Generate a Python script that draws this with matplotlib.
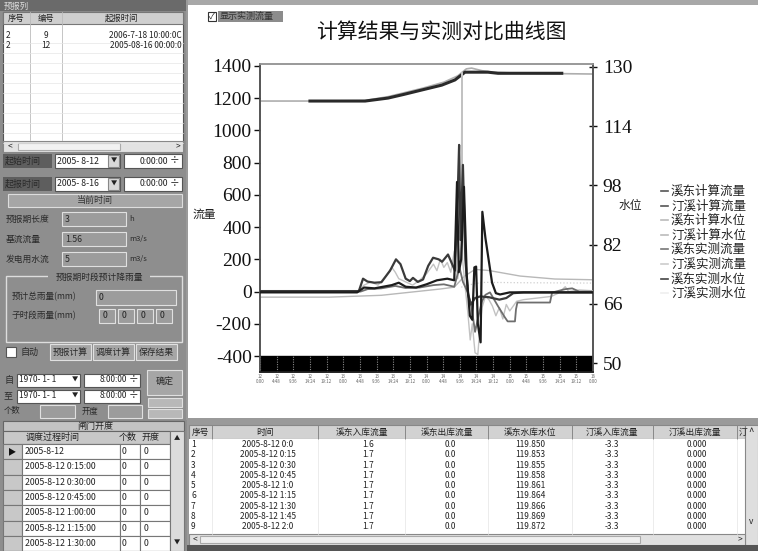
import matplotlib
matplotlib.use("Agg")
import matplotlib.pyplot as plt
from matplotlib.patches import Rectangle
from matplotlib.lines import Line2D

plt.rcParams['font.family'] = ['Noto Sans CJK SC', 'DejaVu Sans']

# ---------------- data (hours since 2005-8-12 0:00) ----------------
title = "计算结果与实测对比曲线图"
series_names = ["溪东计算流量", "汀溪计算流量", "溪东计算水位", "汀溪计算水位",
                "溪东实测流量", "汀溪实测流量", "溪东实测水位", "汀溪实测水位"]

q_xd_calc_t = [0, 28.5, 29.7, 31, 33, 35, 37.5, 39.2, 40.5, 42, 43.2, 44.1, 45.5, 47, 48.5, 49.9,
               51.5, 52.5, 54.2, 55.3, 56.2, 57.0, 57.4, 57.8, 58.5, 59.2, 60.0, 60.8, 62, 63.5, 66,
               69, 71, 73, 76, 96]
q_xd_calc = [3, 3, 80, 62, 55, 58, 130, 200, 170, 80, 65, 85, 60, 75, 160, 210,
             200, 185, 230, 175, 130, 600, 910, 320, 786, 200, -20, -80, -40, -30, -35,
             -50, -40, -10, -5, -5]

q_tx_calc_t = [0, 28, 30, 33, 38, 40, 42, 45, 48, 51, 54, 56, 56.8, 57.3, 58.0, 58.8, 59.6,
               60.5, 61.2, 61.8, 62.3, 62.8, 63.6, 64.1, 65, 66.9, 68, 69.2, 72, 96]
q_tx_calc = [-5, -5, 25, 20, 40, 55, 30, 25, 45, 70, 80, 70, 680, 120, 200, 650, 100,
             -150, -175, 150, 155, -200, -315, 495, 330, 55, -10, -18, -5, -5]

q_xd_obs_t = [0, 29, 31, 35, 39, 42, 46, 50, 53, 56, 57.5, 58.5, 60, 61, 62, 63, 64, 65, 66.3,
              68.6, 70.6, 71.4, 73.5, 73.8, 74.2, 83.6, 84.2, 88, 90, 92, 96]
q_xd_obs = [0, 0, 15, 20, 35, 22, 25, 40, 45, 30, 150, 60, -10, -100, -250, -150, -60, -20, -5,
            -90, -160, -185, -185, -110, -68, -68, -6, 15, 20, 0, 0]

q_tx_obs_t = [0, 3, 6, 10, 15, 20, 25, 28, 30, 32, 34, 36, 38, 39, 40, 42, 44, 46, 48, 50, 51,
              52, 53, 54, 55, 56, 57, 58.0, 58.2, 58.4, 59, 60, 60.6, 61.2, 62, 62.8, 63.3, 64,
              65, 66, 67, 68, 69, 70, 71, 72, 74, 76, 80, 84, 86, 88, 89, 92, 96]
q_tx_obs = [2, -4, 5, -3, 4, -2, 3, 0, 40, 60, 40, 90, 150, 120, 80, 60, 40, 70, 110, 170, 130,
            200, 150, 180, 120, 250, 80, 300, 1360, 200, 60, -150, -300, -200, -380, -390, -250, -100,
            -30, -50, -90, -150, -100, -170, -80, -120, -60, -50, -40, -30, -10, 30, 0, 10, 5]

wl_xd_calc_t = [0, 14, 30, 37, 47, 53, 57, 59.5, 61, 64, 67, 75, 87, 96]
wl_xd_calc = [120.8, 120.8, 120.9, 122.0, 124.3, 125.9, 127.6, 129.5, 129.7, 129.0, 128.6, 128.3, 128.2, 128.1]

wl_tx_calc_t = [0, 20, 35, 45, 52, 56, 59, 62, 66, 75, 85, 96]
wl_tx_calc = [67.8, 67.8, 68.3, 69.3, 70.0, 70.5, 73.5, 75.3, 75.0, 73.5, 72.7, 72.5]

wl_xd_obs_t = [14.4, 30.3, 36.9, 41.5, 46.7, 52.4, 56.2, 59.1, 65.7, 68.6, 87.0]
wl_xd_obs = [120.8, 120.8, 121.6, 122.6, 123.8, 125.1, 126.5, 128.6, 128.6, 128.3, 128.3]

wl_tx_obs_t = [58, 62, 65, 75, 96]
wl_tx_obs = [70.5, 71.5, 71.8, 71.7, 71.6]

left_ticks = [-400, -200, 0, 200, 400, 600, 800, 1000, 1200, 1400]
right_ticks = [50, 66, 82, 98, 114, 130]
x_ticks = [i * 4.8 for i in range(21)]

# table data
tbl_headers = ["序号", "时间", "溪东入库流量", "溪东出库流量", "溪东水库水位", "汀溪入库流量", "汀溪出库流量"]
tbl_times = ["2005-8-12 0:0", "2005-8-12 0:15", "2005-8-12 0:30", "2005-8-12 0:45", "2005-8-12 1:0",
             "2005-8-12 1:15", "2005-8-12 1:30", "2005-8-12 1:45", "2005-8-12 2:0"]
tbl_xd_in = ["1.6", "1.7", "1.7", "1.7", "1.7", "1.7", "1.7", "1.7", "1.7"]
tbl_xd_out = ["0.0"] * 9
tbl_xd_wl = ["119.850", "119.853", "119.855", "119.858", "119.861", "119.864", "119.866", "119.869", "119.872"]
tbl_tx_in = ["-3.3"] * 9
tbl_tx_out = ["0.000"] * 9

gate_times = ["2005-8-12", "2005-8-12 0:15:00", "2005-8-12 0:30:00", "2005-8-12 0:45:00",
              "2005-8-12 1:00:00", "2005-8-12 1:15:00", "2005-8-12 1:30:00"]

# ---------------- figure ----------------
W, H = 758, 551
fig = plt.figure(figsize=(W / 100, H / 100), dpi=100)
fig.patch.set_facecolor('#9a9a9a')

ui = fig.add_axes([0, 0, 1, 1])
ui.set_xlim(0, W)
ui.set_ylim(H, 0)
ui.axis('off')


def rect(x0, y0, x1, y1, fc, ec='none', lw=0.8, z=1):
    ui.add_patch(Rectangle((x0, y0), x1 - x0, y1 - y0, facecolor=fc, edgecolor=ec, lw=lw, zorder=z))


def txt(x, y, s, size=6.5, color='#222', ha='left', z=3, **kw):
    ui.text(x, y, s, fontsize=size, color=color, ha=ha, va='center', zorder=z, **kw)


# chart panel
rect(188, 0, W, 418, 'white')
rect(188, 0, W, 5, '#a8a8a8')
# checkbox
rect(208, 12, 216, 21, 'white', ec='#333')
txt(212, 16.5, "✓", size=6, ha='center', color='#111')
rect(218, 11, 283, 22, '#8c8c8c')
txt(220, 16.5, "显示实测流量", size=6.5, color='#333')
txt(441, 33, title, size=15, ha='center', color='#111')
txt(204, 214, "流量", size=8.5, ha='center', color='#222')
txt(630, 205, "水位", size=8.5, ha='center', color='#222')

# ---------------- left panel ----------------
rect(0, 0, 186, 420, '#8e8e8e')
rect(0, 0, 186, 11, '#6a6a6a')
txt(4, 6, "预报列", size=6, color='#ddd')
rect(3, 12, 183, 152, 'white', ec='#555')
rect(3, 12, 183, 24, '#cfcfcf', ec='#777')
for xx in (30, 62):
    ui.plot([xx, xx], [12, 140], color='#bbb', lw=0.6, zorder=2)
txt(16, 18, "序号", size=6, ha='center')
txt(46, 18, "编号", size=6, ha='center')
txt(122, 18, "起报时间", size=6, ha='center')
for yy in range(38, 140, 10):
    ui.plot([3, 183], [yy + 5, yy + 5], color='#e6e6e6', lw=0.5, zorder=2)
txt(6, 36, "2", size=6)
txt(46, 36, "9", size=6, ha='center')
txt(182, 36, "2006-7-18 10:00:0C", size=6, ha='right')
txt(6, 46, "2", size=6)
txt(46, 46, "12", size=6, ha='center')
txt(182, 46, "2005-08-16 00:00:0", size=6, ha='right')
rect(3, 141, 183, 152, '#e2e2e2', ec='#888')
rect(18, 143, 120, 150, '#f2f2f2', ec='#aaa')
txt(8, 146.5, "<", size=6)
txt(176, 146.5, ">", size=6)

for yc, lab, d in ((161, "起始时间", "2005- 8-12"), (184, "起报时间", "2005- 8-16")):
    rect(3, yc - 7, 52, yc + 7, '#5e5e5e')
    txt(5, yc, lab, size=6.5, color='#2a2a2a')
    rect(55, yc - 7, 120, yc + 7, 'white', ec='#555')
    txt(57, yc, d, size=6.3)
    rect(108, yc - 6, 119, yc + 6, '#d8d8d8', ec='#888')
    txt(113.5, yc, "▼", size=4.5, ha='center')
    rect(124, yc - 7, 182, yc + 7, 'white', ec='#555')
    txt(168, yc, "0:00:00", size=6.3, ha='right')
    txt(175, yc, "÷", size=7, ha='center')

rect(8, 194, 182, 207, '#a6a6a6', ec='#ddd')
txt(95, 200.5, "当前时间", size=6.5, ha='center', color='#333')

for yc, lab, val, unit in ((219, "预报期长度", "3", "h"), (239, "基流流量", "1.56", "m3/s"),
                           (259, "发电用水流", "5", "m3/s")):
    txt(6, yc, lab, size=6.3, color='#2a2a2a')
    rect(62, yc - 7, 126, yc + 7, '#9c9c9c', ec='#e0e0e0')
    txt(65, yc, val, size=6.3, color='#2a2a2a')
    txt(129, yc, unit, size=5.5, color='#2a2a2a')

rect(6, 276, 182, 342, 'none', ec='#dddddd', lw=1)
rect(48, 272, 150, 282, '#8e8e8e')
txt(99, 277, "预报期时段预计降雨量", size=6.3, ha='center', color='#2a2a2a')
txt(12, 297, "预计总雨量(mm)", size=6.2, color='#2a2a2a')
rect(96, 290, 176, 305, '#9c9c9c', ec='#e0e0e0')
txt(99, 297.5, "0", size=6.3)
txt(12, 316, "子时段雨量(mm)", size=6.2, color='#2a2a2a')
for x0 in (99, 118, 137, 156):
    rect(x0, 309, x0 + 16, 323, '#9c9c9c', ec='#e0e0e0')
    txt(x0 + 4, 316, "0", size=6.3)

rect(6, 347, 16, 357, 'white', ec='#555')
txt(20, 352, "自动", size=6.5, color='#2a2a2a')
for x0, lab in ((50, "预报计算"), (93, "调度计算"), (136, "保存结果")):
    rect(x0, 344, x0 + 41, 360, '#a6a6a6', ec='#e0e0e0')
    txt(x0 + 20.5, 352, lab, size=6.3, ha='center', color='#2a2a2a')

for yc, lab in ((380, "自"), (396, "至")):
    txt(4, yc, lab, size=6.5, color='#2a2a2a')
    rect(17, yc - 6.5, 80, yc + 6.5, 'white', ec='#555')
    txt(19, yc, "1970- 1- 1", size=6)
    txt(75, yc, "▼", size=4.5, ha='center')
    rect(84, yc - 6.5, 140, yc + 6.5, 'white', ec='#555')
    txt(127, yc, "8:00:00", size=6, ha='right')
    txt(134, yc, "÷", size=7, ha='center')
rect(147, 370, 182, 395, '#a6a6a6', ec='#e0e0e0')
txt(164.5, 382, "确定", size=6.5, ha='center', color='#2a2a2a')
rect(148, 398, 182, 407, '#b8b8b8', ec='#e0e0e0')
rect(148, 409, 182, 418, '#b8b8b8', ec='#e0e0e0')
txt(4, 411, "个数", size=6, color='#2a2a2a')
rect(40, 405, 75, 418, '#9c9c9c', ec='#e0e0e0')
txt(82, 411, "开度", size=6, color='#2a2a2a')
rect(108, 405, 142, 418, '#9c9c9c', ec='#e0e0e0')

# ---------------- bottom-left gate table ----------------
rect(0, 420, 187, H, '#8e8e8e')
rect(3, 421, 184, 431, '#c4c4c4', ec='#666')
txt(95, 426, "闸门开度", size=6.5, ha='center', color='#222')
rect(3, 431, 170, 444, '#c8c8c8', ec='#666')
txt(26, 437.5, "调度过程时间", size=6.5, color='#222')
txt(128, 437.5, "个数", size=6.5, ha='center', color='#222')
txt(151, 437.5, "开度", size=6.5, ha='center', color='#222')
row_h = 15.3
for i in range(len(gate_times) + 1):
    y0 = 444 + i * row_h
    rect(3, y0, 22, y0 + row_h, '#c8c8c8', ec='#777')
    rect(22, y0, 120, y0 + row_h, 'white', ec='#777')
    rect(120, y0, 140, y0 + row_h, 'white', ec='#777')
    rect(140, y0, 170, y0 + row_h, 'white', ec='#777')
for i, gt in enumerate(gate_times):
    yc = 444 + i * row_h + row_h / 2
    txt(25, yc, gt, size=6.3)
    txt(122, yc, "0", size=6.3)
    txt(144, yc, "0", size=6.3)
txt(12, 451.5, "▶", size=6, ha='center', color='#111')
rect(170, 431, 184, H, '#dcdcdc', ec='#777')
txt(177, 438, "▲", size=4.5, ha='center')
txt(177, 543, "▼", size=4.5, ha='center')

# ---------------- bottom-right data table ----------------
rect(187, 418, W, H, '#9a9a9a')
rect(189, 425, 745, 439, '#d2d2d2', ec='#888')
col_edges = [189, 212, 318, 405, 488, 572, 653, 737, 745]
for xx in col_edges[1:-1]:
    ui.plot([xx, xx], [425, 439], color='#888', lw=0.7, zorder=2)
col_centers = [200, 265, 362, 447, 530, 612, 695]
for cx, hd in zip(col_centers, tbl_headers):
    txt(cx, 432, hd, size=6.3, ha='center', color='#222')
txt(739, 432, "汀", size=6.3, ha='left', color='#222')
rect(189, 439, 745, 534, 'white')
for xx in col_edges[1:-1]:
    ui.plot([xx, xx], [439, 534], color='#e4e4e4', lw=0.5, zorder=2)
for i in range(9):
    yc = 444.5 + i * 10.3
    txt(191, yc, str(i + 1), size=6)
    txt(268, yc, tbl_times[i], size=6, ha='center')
    txt(368, yc, tbl_xd_in[i], size=6, ha='center')
    txt(450, yc, tbl_xd_out[i], size=6, ha='center')
    txt(530, yc, tbl_xd_wl[i], size=6, ha='center')
    txt(612, yc, tbl_tx_in[i], size=6, ha='center')
    txt(697, yc, tbl_tx_out[i], size=6, ha='center')
rect(745, 425, W, 545, '#dedede', ec='#888')
txt(751.5, 432, "^", size=7, ha='center')
txt(751.5, 521, "v", size=6, ha='center')
rect(189, 534, 745, 545, '#e0e0e0', ec='#888')
rect(200, 536, 640, 543, '#efefef', ec='#aaa')
txt(193, 539.5, "<", size=6)
txt(738, 539.5, ">", size=6)
rect(187, 545, W, H, '#555555')

# ---------------- chart ----------------
x0p, x1p, y0p, y1p = 260, 593, 64, 372
ax = fig.add_axes([x0p / W, 1 - y1p / H, (x1p - x0p) / W, (y1p - y0p) / H])
ax.set_zorder(5)
axr = ax.twinx()
ax.set_xlim(0, 96)
ax.set_ylim(-499, 1412)
axr.set_ylim(47.57, 130.81)

ax.axhspan(-499, -400, color='black', zorder=1)
ax.vlines(x_ticks, -499, -400, colors='#8a8a8a', linestyles=(0, (1, 1.2)), lw=0.8, zorder=2)

colors = {
    "溪东计算流量": '#3a3a3a',
    "汀溪计算流量": '#1c1c1c',
    "溪东计算水位": '#aeaeae',
    "汀溪计算水位": '#b8b8b8',
    "溪东实测流量": '#6e6e6e',
    "汀溪实测流量": '#c2c2c2',
    "溪东实测水位": '#2a2a2a',
    "汀溪实测水位": '#cfcfcf',
}

axr.plot(wl_tx_obs_t, wl_tx_obs, color=colors["汀溪实测水位"], lw=0.9, ls=':', zorder=2)
axr.plot(wl_tx_calc_t, wl_tx_calc, color=colors["汀溪计算水位"], lw=1.0, zorder=2)
axr.plot(wl_xd_calc_t, wl_xd_calc, color=colors["溪东计算水位"], lw=1.2, zorder=2)
axr.plot(wl_xd_obs_t, wl_xd_obs, color=colors["溪东实测水位"], lw=2.2, zorder=3)
ax.plot(q_tx_obs_t, q_tx_obs, color=colors["汀溪实测流量"], lw=1.0, zorder=3)
ax.plot(q_xd_obs_t, q_xd_obs, color=colors["溪东实测流量"], lw=1.3, zorder=4)
ax.plot(q_xd_calc_t, q_xd_calc, color=colors["溪东计算流量"], lw=1.6, zorder=5)
ax.plot(q_tx_calc_t, q_tx_calc, color=colors["汀溪计算流量"], lw=1.6, zorder=6)
axr.set_zorder(ax.get_zorder() - 1)
ax.patch.set_visible(False)

tfont = dict(family='Liberation Serif', size=14)
ax.set_yticks(left_ticks)
ax.set_yticklabels([str(v) for v in left_ticks], fontdict=tfont)
axr.set_yticks(right_ticks)
axr.set_yticklabels([str(v) for v in right_ticks], fontdict=tfont)
ax.tick_params(axis='y', direction='out', length=4, width=1, pad=2, colors='#111')
axr.tick_params(axis='y', direction='inout', length=6, width=1, pad=4, colors='#111')
ax.set_xticks(x_ticks)
xlabels = [f"{12 + int(h // 24)}\n{int(h % 24)}:{int(round((h % 1) * 60)) % 60:02d}" for h in x_ticks]
ax.set_xticklabels(xlabels, fontsize=3.2, color='#666', linespacing=0.9)
ax.tick_params(axis='x', direction='in', length=0, pad=1.5)
for a in (ax, axr):
    a.spines['top'].set_color('#999')
    a.spines['left'].set_color('#555')
    a.spines['right'].set_color('#555')
    a.spines['bottom'].set_color('#222')
    for s in a.spines.values():
        s.set_linewidth(1.2)

# legend (manual, in pixel coords)
leg_y = [191, 206, 220, 235, 249, 264, 279, 293]
leg_cols = ['#555', '#555', '#bbb', '#bbb', '#777', '#ccc', '#444', '#efefef']
for yy, nm, c in zip(leg_y, series_names, leg_cols):
    ui.add_line(Line2D([661, 668], [yy, yy], color=c, lw=1.2, zorder=4))
    txt(671, yy, nm, size=9, color='#222', z=4)

fig.savefig("out.png", dpi=100)
